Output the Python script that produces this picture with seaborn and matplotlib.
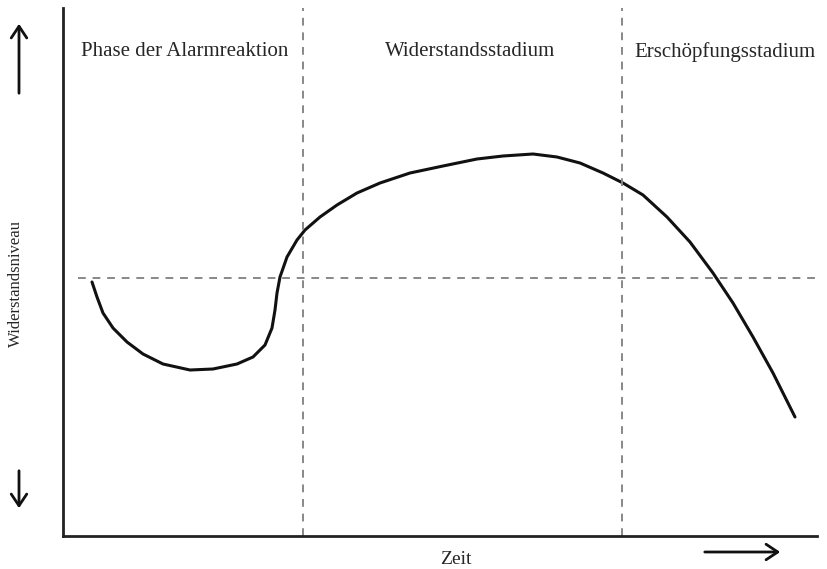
import matplotlib
matplotlib.use('Agg')
import matplotlib.pyplot as plt
import seaborn as sns
import pandas as pd

# Kurve (Zeit, Widerstandsniveau)
zeit = [29, 34, 40, 50, 64, 80, 100, 127, 150, 174, 190, 202, 209, 212, 214, 217,
        224, 234, 242, 257, 274, 294, 317, 347, 380, 414, 440, 470, 494, 517,
        540, 560, 580, 604, 627, 650, 670, 690, 710, 732]
niveau = [254, 239, 223, 208, 194, 182, 172, 166, 167, 172, 179, 191, 208, 226, 243, 259,
          279, 296, 306, 319, 331, 343, 353, 363, 370, 377, 380, 382, 379, 373,
          363, 353, 341, 319, 294, 263, 233, 199, 163, 119]

phasen = ['Phase der Alarmreaktion', 'Widerstandsstadium', 'Erschöpfungsstadium']
phasen_mitte = [122, 407, 662]
grenzen = [240, 559]
schwelle = 258

df = pd.DataFrame({'Zeit': zeit, 'Niveau': niveau})

sns.set_style('white')
plt.rcParams['font.family'] = ['Liberation Serif', 'DejaVu Serif']

fig = plt.figure(figsize=(8.27, 5.69), dpi=100)
ax = fig.add_axes([63 / 827, 33 / 569, (822 - 63) / 827, (536 - 8) / 569])

sns.lineplot(data=df, x='Zeit', y='Niveau', ax=ax, color='#111111', linewidth=2.2,
             sort=False, solid_joinstyle='round', solid_capstyle='round')

for g in grenzen:
    ax.axvline(g, color='#888888', linestyle=(0, (4, 3.5)), linewidth=1.4)
ax.plot([15, 757], [schwelle, schwelle], color='#888888', linestyle=(0, (4, 3.5)),
        linewidth=1.4, clip_on=False)

for name, m in zip(phasen, phasen_mitte):
    ax.text(m, 484, name, ha='center', va='center', fontsize=15)

ax.set_xlim(0, 759)
ax.set_ylim(0, 528)
ax.set_xticks([])
ax.set_yticks([])
ax.set_xlabel('')
ax.set_ylabel('')
for s in ['top', 'right']:
    ax.spines[s].set_visible(False)
for s in ['left', 'bottom']:
    ax.spines[s].set_color('#222222')
    ax.spines[s].set_linewidth(2)
ax.spines['bottom'].set_bounds(0, 754)

W, H = 827, 569
def fx(px):
    return px / W
def fy(py):
    return 1 - py / H

arrow = dict(arrowstyle='->, head_length=0.6, head_width=0.4', color='#111111', lw=2)
fig.add_artist(matplotlib.patches.FancyArrowPatch((fx(19), fy(96)), (fx(19), fy(21)),
               transform=fig.transFigure, mutation_scale=14, **arrow))
fig.add_artist(matplotlib.patches.FancyArrowPatch((fx(19), fy(468)), (fx(19), fy(511)),
               transform=fig.transFigure, mutation_scale=14, **arrow))
fig.add_artist(matplotlib.patches.FancyArrowPatch((fx(702), fy(552)), (fx(783), fy(552)),
               transform=fig.transFigure, mutation_scale=14, **arrow))

fig.text(fx(16), fy(283), 'Widerstandsniveau', rotation=90, ha='center', va='center', fontsize=12)
fig.text(fx(456), fy(560), 'Zeit', ha='center', va='center', fontsize=14)

fig.savefig('out.png', dpi=100)
